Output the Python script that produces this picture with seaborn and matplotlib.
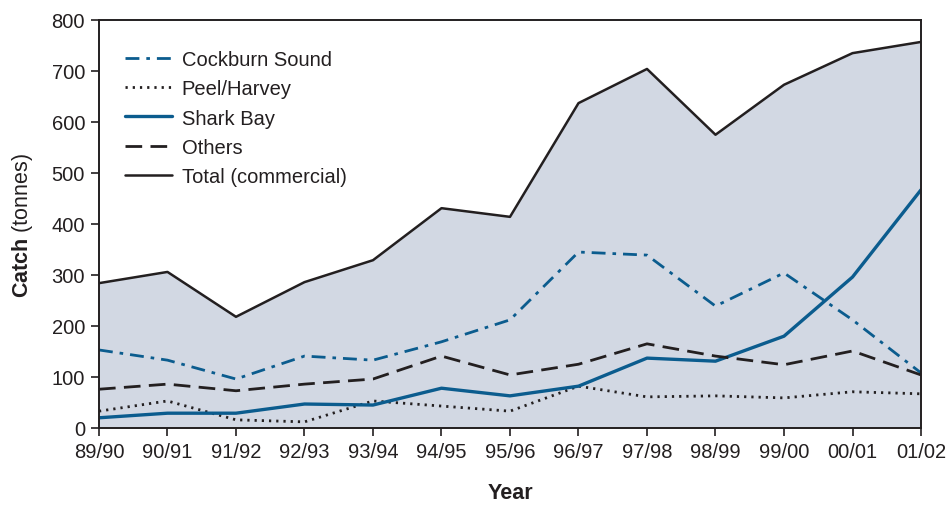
import pandas as pd
import seaborn as sns
import matplotlib.pyplot as plt

years = ["89/90", "90/91", "91/92", "92/93", "93/94", "94/95", "95/96",
         "96/97", "97/98", "98/99", "99/00", "00/01", "01/02"]
cockburn = [153, 133, 96, 141, 133, 169, 212, 345, 339, 239, 304, 212, 108]
peel = [33, 53, 16, 12, 53, 43, 33, 82, 61, 63, 59, 71, 67]
shark = [20, 29, 29, 47, 45, 78, 63, 82, 137, 131, 180, 296, 467]
others = [76, 86, 73, 86, 96, 141, 104, 125, 165, 141, 124, 151, 104]
total = [284, 306, 218, 286, 329, 431, 414, 637, 704, 575, 673, 735, 757]

blue = "#0b5c8e"
dark = "#231f20"

sns.set_style("ticks")
plt.rcParams["font.family"] = ["Liberation Sans", "DejaVu Sans"]
plt.rcParams["mathtext.fontset"] = "custom"
plt.rcParams["mathtext.rm"] = "Liberation Sans"
plt.rcParams["mathtext.bf"] = "Liberation Sans:bold"

df = pd.DataFrame({"x": range(len(years)), "Cockburn Sound": cockburn,
                   "Peel/Harvey": peel, "Shark Bay": shark,
                   "Others": others, "Total (commercial)": total})

fig = plt.figure(figsize=(9.49, 5.06), dpi=100)
ax = fig.add_axes([0.1043, 0.1522, 0.8662, 0.8063])

ax.fill_between(df["x"], 0, df["Total (commercial)"], color="#d2d8e3", lw=0, zorder=0)

styles = {
    "Cockburn Sound": dict(color=blue, lw=2.0, dashes=(5, 2.5, 1.3, 2.5)),
    "Peel/Harvey": dict(color=dark, lw=2.0, dashes=(0.8, 1.8)),
    "Shark Bay": dict(color=blue, lw=2.4, dashes=()),
    "Others": dict(color=dark, lw=2.0, dashes=(6, 3)),
    "Total (commercial)": dict(color=dark, lw=1.8, dashes=()),
}
for name, st in styles.items():
    sns.lineplot(data=df, x="x", y=name, ax=ax, color=st["color"],
                 linewidth=st["lw"], label=name)
    l = ax.get_lines()[-1]
    if st["dashes"]:
        l.set_dashes(st["dashes"])

ax.set_xlim(0, len(years) - 1)
ax.set_ylim(0, 800)
ax.set_xticks(range(len(years)))
ax.set_xticklabels(years)
ax.set_yticks(range(0, 801, 100))
ax.tick_params(axis="both", labelsize=14.5, direction="out", length=6,
               width=1.2, color=dark, labelcolor=dark, pad=4)
for s in ax.spines.values():
    s.set_color(dark)
    s.set_linewidth(1.4)

ax.set_xlabel("Year", fontsize=15.5, fontweight="bold", color=dark, labelpad=15)
ax.set_ylabel(r"$\bf{Catch}$ (tonnes)", fontsize=15.5, color=dark, labelpad=12)

leg = ax.legend(loc="upper left", bbox_to_anchor=(0.01, 0.97), frameon=False,
                fontsize=14.5, handlelength=2.3, handletextpad=0.5,
                labelspacing=0.5, labelcolor=dark)

fig.savefig("out.png", dpi=100)
